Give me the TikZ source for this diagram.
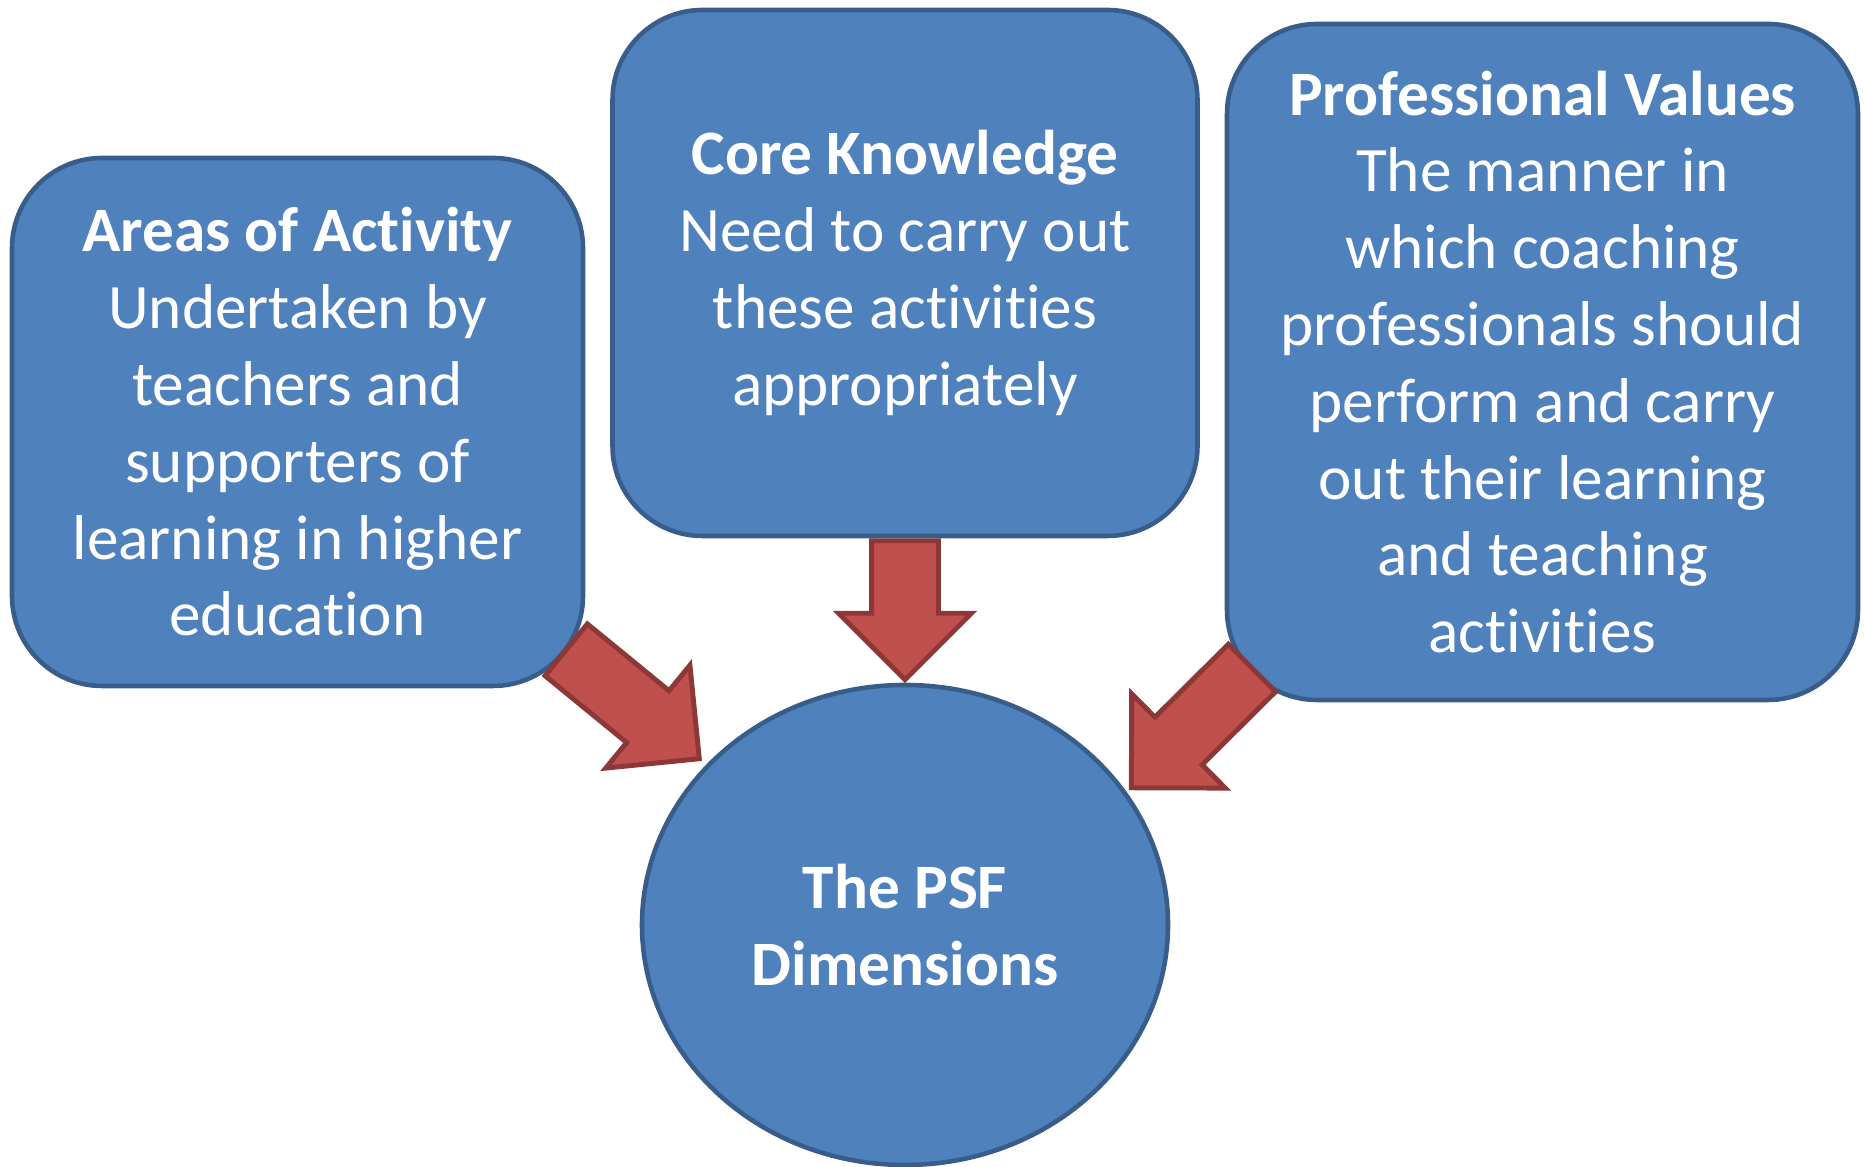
\documentclass[tikz,border=0pt]{standalone}
\usepackage{fontspec}
\setmainfont[Ligatures=NoCommon]{Carlito}
\usepackage{tikz}
\usetikzlibrary{calc}
\usetikzlibrary{positioning}
\usetikzlibrary{shapes}
\definecolor{psfblue}{HTML}{4F81BD}
\definecolor{psfedge}{HTML}{385D8A}
\definecolor{arrowred}{HTML}{C0504D}
\definecolor{arrowedge}{HTML}{8C3836}

\begin{document}
\begin{tikzpicture}[line width=1.3pt, node distance = 5cm and 6cm, on grid,          % Node placement settings
                        dimbox/.style = {rectangle, rounded corners=0.9cm, draw=psfedge, fill=psfblue,
                            text=white, align=center, inner sep=0pt, font=\fontsize{18}{21.85}\selectfont},
                        blockarrow/.style = {single arrow, draw=arrowedge, fill=arrowred, line width=1.4pt,
                            inner xsep=0pt, inner ysep=0.31cm, single arrow head extend=0.33cm,
                            single arrow tip angle=90, anchor=tail}]             % Defining block arrows
        \useasboundingbox (0,0) rectangle (18.64,11.67);
        \node[dimbox, ellipse, minimum width=5.26cm, minimum height=4.80cm] (psf) at (9.05,2.42)
            {\textbf{The PSF}\\\textbf{Dimensions}};
        \node[dimbox, minimum width=5.85cm, minimum height=5.26cm] (core) [above =6.52cm of psf]
            {\textbf{Core Knowledge}\\Need to carry out\\these activities\\appropriately};
        \node[dimbox, minimum width=5.71cm, minimum height=5.28cm] (areas) [above left =5.03cm and 6.075cm of psf]
            {\textbf{Areas of Activity}\\Undertaken by\\teachers and\\supporters of\\learning in higher\\education};
        \node[dimbox, minimum width=6.31cm, minimum height=6.76cm] (values) [above right =5.63cm and 6.375cm of psf]
            {\textbf{Professional Values}\\The manner in\\which coaching\\professionals should\\perform and carry\\out their learning\\and teaching\\activities};
        %arrows into the centre
        \node[blockarrow, minimum height=1.72cm, rotate=-39.3] (arrA) at ($(areas.south east)+(-0.21,0.40)$) {};
        \node[blockarrow, minimum height=1.39cm, rotate=-90] (arrC) at (core.south) {};
        \node[blockarrow, minimum height=1.70cm, rotate=-135.2] (arrV) at ($(values.south west)+(0.29,0.36)$) {};
    \end{tikzpicture}
\end{document}
